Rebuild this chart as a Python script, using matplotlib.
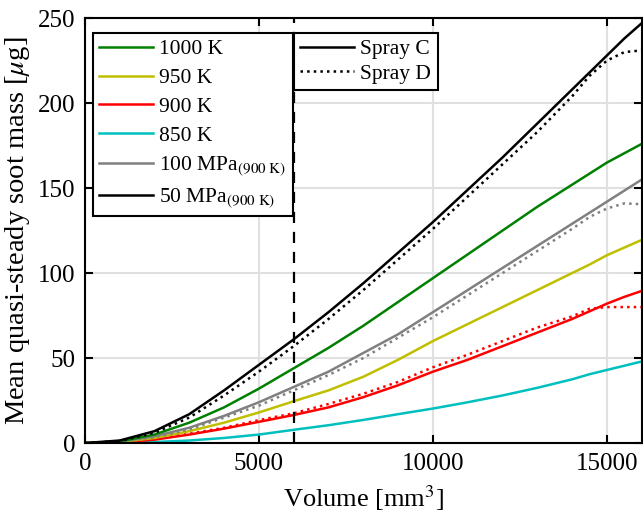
import numpy as np
import matplotlib
matplotlib.use("Agg")
from matplotlib import pyplot as plt
from matplotlib.lines import Line2D

plt.rcParams["font.family"] = ["Liberation Serif", "DejaVu Serif"]
plt.rcParams["mathtext.fontset"] = "stix"

## Values
volume = [0, 1000, 2000, 3000, 4000, 5000, 6000, 7000, 8000, 9000, 10000,
          11000, 12000, 13000, 14000, 14500, 15000, 15500, 16000]

mpa50_C = [0, 1.5, 7, 17, 31, 46, 61, 77, 94, 112, 130, 149, 168, 188, 208, 218, 228, 238, 247]
mpa50_D = [0, 1.2, 6, 15, 28, 42, 57, 73, 90, 108, 126, 145, 164, 183, 204, 216, 225, 230, 231]
k1000_C = [0, 1, 5, 12, 21, 32, 44, 56, 69, 83, 97, 111, 125, 139, 152, 158.5, 165, 170.5, 176]
mpa100_C = [0, 0.8, 4, 9, 16, 24, 33, 42, 53, 64, 77, 90, 103, 116, 129, 135.5, 142, 148.5, 155]
mpa100_D = [0, 0.7, 3.5, 8, 15, 22, 31, 40, 50, 62, 74, 87, 100, 113, 126, 133, 138, 141, 140.5]
k950_C = [0, 0.6, 3, 7, 12, 18, 24.6, 31, 39, 49, 60, 70, 80, 90, 100, 105, 110.5, 115, 119.5]
k900_C = [0, 0.4, 2, 5, 8.5, 12.5, 16.5, 21, 27, 34, 42, 49, 57, 65, 73, 77.5, 82, 86, 89.5]
k900_D = [0, 0.5, 2.2, 5.5, 9, 13.5, 17.5, 23, 29, 36, 44.6, 52, 60, 68, 74.5, 79, 80, 80, 80]
k850_C = [0, 0.1, 0.6, 1.5, 3, 5, 7.8, 10.5, 13.6, 17, 20.3, 24, 28, 32.5, 37.5, 40.5, 43, 45.5, 48]

cond_labels = ["1000 K", "950 K", "900 K", "850 K",
               r"100 MPa$_{\mathrm{(900\ K)}}$", r"50 MPa$_{\mathrm{(900\ K)}}$"]
cond_colors = ["#008000", "#bfbf00", "#ff0000", "#00bfbf", "#808080", "#000000"]
spray_labels = ["Spray C", "Spray D"]
cut_volume = 6000

fig = plt.figure(figsize=(6.43, 5.17), dpi=100)
ax = fig.add_axes([0.132, 0.143, 0.866, 0.822])

lw = 1.8
ax.plot(volume, k850_C, color=cond_colors[3], lw=lw)
ax.plot(volume, k900_C, color=cond_colors[2], lw=lw)
ax.plot(volume, k900_D, color=cond_colors[2], lw=lw, ls=":")
ax.plot(volume, k950_C, color=cond_colors[1], lw=lw)
ax.plot(volume, mpa100_C, color=cond_colors[4], lw=lw)
ax.plot(volume, mpa100_D, color=cond_colors[4], lw=lw, ls=":")
ax.plot(volume, k1000_C, color=cond_colors[0], lw=lw)
ax.plot(volume, mpa50_C, color=cond_colors[5], lw=lw)
ax.plot(volume, mpa50_D, color=cond_colors[5], lw=lw, ls=":")

ax.plot([cut_volume, cut_volume], [0, 250], color="k", lw=1.6, ls=(0, (5, 4)))

ax.set_xlim(0, 16000)
ax.set_ylim(0, 250)
ax.set_xticks([0, 5000, 10000, 15000])
ax.set_yticks([0, 50, 100, 150, 200, 250])
ax.grid(True, color="#e0e0e0", lw=1.5)
ax.set_axisbelow(True)
ax.tick_params(direction="in", length=6, width=1.5, labelsize=18,
               top=True, right=True, pad=7)
for s in ax.spines.values():
    s.set_linewidth(1.5)

ax.set_xlabel(r"Volume [mm$^3$]", fontsize=19, labelpad=6)
ax.set_ylabel(r"Mean quasi-steady soot mass [$\mu$g]", fontsize=20.5, labelpad=4)

## Legends
h1 = [Line2D([], [], color=c, lw=lw) for c in cond_colors]
leg1 = ax.legend(h1, cond_labels, loc="upper left", bbox_to_anchor=(0.014, 0.965),
                 fontsize=15.5, frameon=True, fancybox=False, framealpha=1,
                 edgecolor="k", handlelength=2.5, handletextpad=0.3,
                 borderaxespad=0, borderpad=0.3, labelspacing=0.4)
leg1.get_frame().set_linewidth(1.5)
ax.add_artist(leg1)

h2 = [Line2D([], [], color="k", lw=lw), Line2D([], [], color="k", lw=lw, ls=":")]
leg2 = ax.legend(h2, spray_labels, loc="upper left", bbox_to_anchor=(0.375, 0.965),
                 fontsize=15.5, frameon=True, fancybox=False, framealpha=1,
                 edgecolor="k", handlelength=2.5, handletextpad=0.3,
                 borderaxespad=0, borderpad=0.3, labelspacing=0.2)
leg2.get_frame().set_linewidth(1.5)

fig.savefig("out.png", dpi=100)
